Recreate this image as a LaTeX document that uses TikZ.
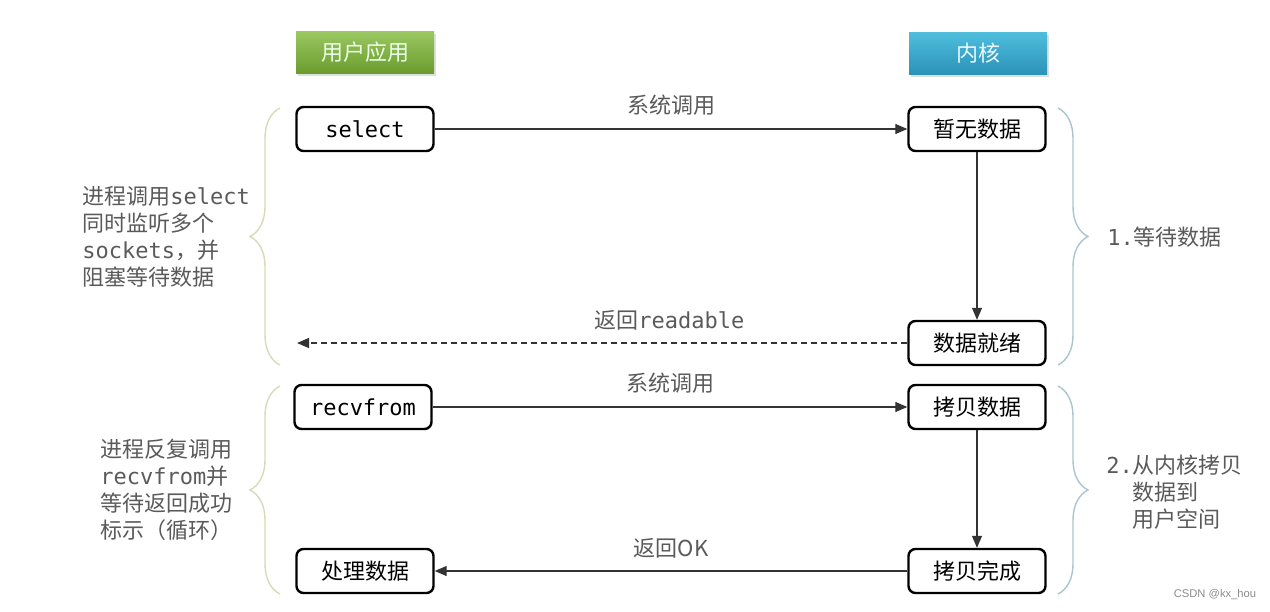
\documentclass[tikz,border=0pt]{standalone}
\usepackage{fontspec}
\setmainfont{Noto Sans CJK SC}
\setmonofont{DejaVu Sans Mono}
\newfontfamily\markfont{Liberation Sans}
\usepackage{xcolor}
\usepackage{tikz}
\usetikzlibrary{arrows.meta,positioning,shadows,decorations.pathreplacing}

\definecolor{appgreentop}{HTML}{9BC862}
\definecolor{appgreenbot}{HTML}{6C9C2E}
\definecolor{kernbluetop}{HTML}{4FBEDD}
\definecolor{kernbluebot}{HTML}{2B93B8}
\definecolor{leftbrace}{HTML}{D9D9B8}
\definecolor{rightbrace}{HTML}{A9C6CF}
\definecolor{notegray}{HTML}{5A5A5A}

\begin{document}
\begin{tikzpicture}[
    x=0.5pt, y=-0.5pt,
    font=\fontsize{11}{13.4}\selectfont,
    head/.style={rectangle, minimum width=69pt, minimum height=21pt, drop shadow={opacity=0.25, shadow xshift=1pt, shadow yshift=-1.5pt}},
    stage/.style={rectangle, draw=black, line width=1.2pt, rounded corners=3.5pt, minimum width=68.5pt, minimum height=22pt, fill=white},
    call/.style={-{Triangle[length=6pt,width=5pt]}, draw=black!80, line width=0.6pt},
    note/.style={text=notegray, align=left, inner sep=0pt},
    span/.style={decorate, decoration={brace, amplitude=15pt}, line width=0.7pt}
]
\useasboundingbox (0,0) rectangle (1270,611);

% column heads
\node[head, top color=appgreentop, bottom color=appgreenbot, text=green!8!white] (user) at (365,52) {用户应用};
\node[head, top color=kernbluetop, bottom color=kernbluebot, text=cyan!8!white] (kernel) at (978,53) {内核};

% application side
\node[stage] (select) at (365,129) {\texttt{select}};
\node[stage] (recv) at (363,407) {\texttt{recvfrom}};
\node[stage] (handle) at (365,571) {处理数据};
\coordinate (back) at (297,343);

% kernel side
\node[stage] (nodata) at (977,129) {暂无数据};
\node[stage] (ready) at (977,343) {数据就绪};
\node[stage] (copy) at (977,407) {拷贝数据};
\node[stage] (done) at (977,571) {拷贝完成};

\draw[call] (select) -- node[above=3pt, text=notegray] {系统调用} (nodata);
\draw[call] (nodata) -- (ready);
\draw[call, dash pattern=on 3pt off 2pt] (ready) -- node[pos=0.39, above=3pt, text=notegray] {返回\texttt{readable}} (back);
\draw[call] (recv) -- node[above=3pt, text=notegray] {系统调用} (copy);
\draw[call] (copy) -- (done);
\draw[call] (done) -- node[above=3pt, text=notegray] {返回OK} (handle);

% braces and notes
\draw[span, draw=leftbrace] (280,365) -- (280,108);
\draw[span, draw=leftbrace] (280,594) -- (280,386);
\draw[span, draw=rightbrace] (1058,108) -- (1058,365);
\draw[span, draw=rightbrace] (1058,386) -- (1058,594);

\node[note, anchor=west] (wait) at (82,237) {进程调用\texttt{select}\\同时监听多个\\\texttt{sockets}，并\\阻塞等待数据};
\node[note, anchor=west] (loop) at (100,490) {进程反复调用\\\texttt{recvfrom}并\\等待返回成功\\标示（循环）};
\node[note, anchor=west] (stage1) at (1107,237) {\texttt{1.}等待数据};
\node[note, anchor=west] (stage2) at (1106,492) {\texttt{2.}从内核拷贝\\\phantom{\texttt{2.}}数据到\\\phantom{\texttt{2.}}用户空间};

\node[text=black!45, font=\markfont\fontsize{5.6}{7}\selectfont] (mark) at (1215,595) {CSDN @kx\_hou};
\end{tikzpicture}
\end{document}
